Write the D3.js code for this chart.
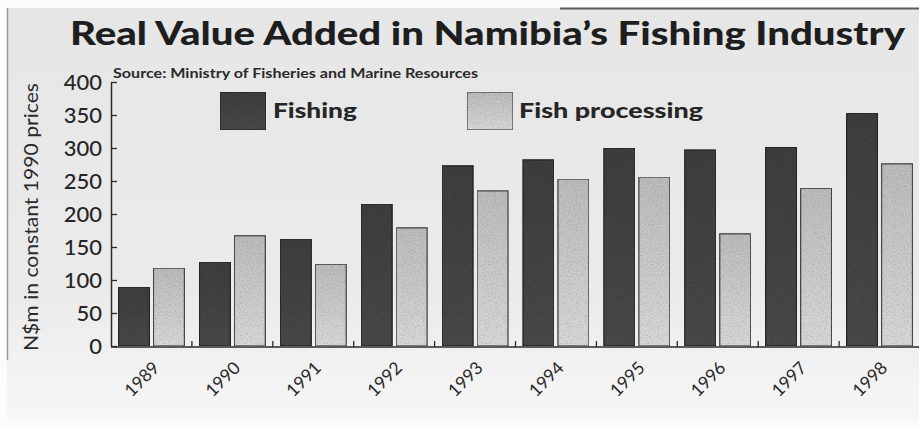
<!DOCTYPE html>
<html>
<head>
<meta charset="utf-8">
<script src="https://cdn.jsdelivr.net/npm/d3@7/dist/d3.min.js"></script>
<style>
  html, body { margin: 0; padding: 0; background: #ffffff; }
  svg { display: block; }
</style>
</head>
<body>
<svg id="chart" width="919" height="429"></svg>
<script>
// Real value added, N$ million at constant 1990 prices
const years = ["1989", "1990", "1991", "1992", "1993", "1994", "1995", "1996", "1997", "1998"];
const fishing = [89, 127, 162, 215, 273, 282, 300, 297, 301, 353];
const fishProcessing = [118, 167, 124, 179, 235, 253, 256, 170, 239, 276];
const seriesNames = ["Fishing", "Fish processing"];
const yTicks = [0, 50, 100, 150, 200, 250, 300, 350, 400];

const titleText = "Real Value Added in Namibia\u2019s Fishing Industry";
const sourceText = "Source: Ministry of Fisheries and Marine Resources";
const yAxisTitle = "N$m in constant 1990 prices";

const W = 919, H = 429;
const svg = d3.select("#chart");
const defs = svg.append("defs");

// paper background
const bg = defs.append("linearGradient").attr("id", "paper")
  .attr("x1", 0).attr("y1", 0).attr("x2", 0).attr("y2", 1);
bg.append("stop").attr("offset", "0%").attr("stop-color", "#e6e6e6");
bg.append("stop").attr("offset", "70%").attr("stop-color", "#ebebeb");
bg.append("stop").attr("offset", "100%").attr("stop-color", "#f7f7f7");

const dark = defs.append("linearGradient").attr("id", "darkFill")
  .attr("x1", 0).attr("y1", 0).attr("x2", 0).attr("y2", 1);
dark.append("stop").attr("offset", "0%").attr("stop-color", "#3e3e3e");
dark.append("stop").attr("offset", "100%").attr("stop-color", "#494949");

const light = defs.append("linearGradient").attr("id", "lightFill")
  .attr("x1", 0).attr("y1", 0).attr("x2", 0).attr("y2", 1);
light.append("stop").attr("offset", "0%").attr("stop-color", "#bebebe");
light.append("stop").attr("offset", "100%").attr("stop-color", "#dadada");

// speckled print texture
const grain = defs.append("filter").attr("id", "grain")
  .attr("x", 0).attr("y", 0).attr("width", 1).attr("height", 1);
grain.append("feTurbulence").attr("type", "fractalNoise")
  .attr("baseFrequency", 0.9).attr("numOctaves", 2).attr("seed", 3).attr("result", "noise");
grain.append("feColorMatrix").attr("in", "noise").attr("type", "matrix")
  .attr("values", "0 0 0 0 0  0 0 0 0 0  0 0 0 0 0  0 0 0 -0.7 0.42").attr("result", "spots");
grain.append("feComposite").attr("in", "spots").attr("in2", "SourceGraphic").attr("operator", "atop");

svg.append("rect").attr("x", 0).attr("y", 0).attr("width", W).attr("height", H).attr("fill", "#fbfbfb");
svg.append("rect").attr("x", 7).attr("y", 8).attr("width", W - 7).attr("height", 414).attr("fill", "url(#paper)");
svg.append("line").attr("x1", 7.5).attr("x2", 7.5).attr("y1", 8).attr("y2", 360)
  .attr("stroke", "#9a9a9a").attr("stroke-width", 1.5);
svg.append("line").attr("x1", 560).attr("x2", W).attr("y1", 8.5).attr("y2", 8.5)
  .attr("stroke", "#5a5a5a").attr("stroke-width", 2);

const fontMain = "'Lato', 'Open Sans', 'DejaVu Sans', sans-serif";

// title
svg.append("text")
  .attr("x", 70).attr("y", 45)
  .attr("textLength", 835).attr("lengthAdjust", "spacingAndGlyphs")
  .style("font-family", fontMain).style("font-weight", 900).style("font-size", "32px")
  .attr("fill", "#1e1e1e")
  .text(titleText);

// source line
svg.append("text")
  .attr("x", 113).attr("y", 78)
  .attr("textLength", 365).attr("lengthAdjust", "spacingAndGlyphs")
  .style("font-family", fontMain).style("font-weight", 700).style("font-size", "12.5px")
  .attr("fill", "#2a2a2a")
  .text(sourceText);

// scales
const x0 = d3.scaleBand().domain(years).range([111, 920])
  .paddingInner(0.185).paddingOuter(0.0925);
const x1 = d3.scaleBand().domain(seriesNames).range([0, x0.bandwidth()])
  .paddingInner(0.114).paddingOuter(0);
const y = d3.scaleLinear().domain([0, 400]).range([346, 82]);

const rows = years.map((yr, i) => ({ year: yr, values: [
  { key: seriesNames[0], value: fishing[i] },
  { key: seriesNames[1], value: fishProcessing[i] }
]}));
const fills = { "Fishing": "url(#darkFill)", "Fish processing": "url(#lightFill)" };
const strokes = { "Fishing": "#262626", "Fish processing": "#4a4a4a" };

// bars
const groups = svg.append("g").selectAll("g").data(rows).join("g")
  .attr("transform", d => `translate(${x0(d.year)},0)`);
groups.selectAll("rect").data(d => d.values).join("rect")
  .attr("x", d => x1(d.key))
  .attr("y", d => y(d.value))
  .attr("width", x1.bandwidth())
  .attr("height", d => y(0) - y(d.value))
  .attr("fill", d => fills[d.key])
  .attr("stroke", d => strokes[d.key])
  .attr("stroke-width", 1.3)
  .attr("filter", "url(#grain)");

// y axis, ticks pointing into the plot
const yAxis = d3.axisLeft(y).tickValues(yTicks).tickSizeInner(-6).tickSizeOuter(0).tickPadding(9);
const gy = svg.append("g").attr("transform", "translate(111,0)").call(yAxis);
gy.select(".domain").attr("stroke", "#2a2a2a").attr("stroke-width", 1.5);
gy.selectAll(".tick line").attr("stroke", "#2a2a2a").attr("stroke-width", 1.3);
gy.selectAll(".tick text")
  .style("font-family", fontMain).style("font-size", "22px").style("font-weight", 500)
  .attr("fill", "#252525");

// x axis baseline with group separators
const step = x0.step();
svg.append("line").attr("x1", 111).attr("x2", W).attr("y1", 347).attr("y2", 347)
  .attr("stroke", "#2a2a2a").attr("stroke-width", 1.5);
svg.append("g").selectAll("line").data(years.slice(1)).join("line")
  .attr("x1", d => x0(d) - step * 0.0925).attr("x2", d => x0(d) - step * 0.0925)
  .attr("y1", 347).attr("y2", 341)
  .attr("stroke", "#2a2a2a").attr("stroke-width", 1.3);

const xAxis = d3.axisBottom(x0).tickSize(0).tickPadding(0);
const gx = svg.append("g").attr("transform", "translate(0,347)").call(xAxis);
gx.select(".domain").remove();
gx.selectAll(".tick text")
  .attr("text-anchor", "end")
  .attr("dy", 0)
  .attr("transform", "translate(9,22) rotate(-45)")
  .style("font-family", fontMain).style("font-size", "17.5px")
  .attr("fill", "#2a2a2a");

// y axis title
svg.append("text")
  .attr("transform", "translate(38,217) rotate(-90)")
  .attr("text-anchor", "middle")
  .attr("textLength", 268).attr("lengthAdjust", "spacingAndGlyphs")
  .style("font-family", fontMain).style("font-size", "19px")
  .attr("fill", "#2a2a2a")
  .text(yAxisTitle);

// legend
const legendPos = [
  { key: seriesNames[0], x: 220, tx: 273, tw: 84 },
  { key: seriesNames[1], x: 467, tx: 519, tw: 184 }
];
const lg = svg.append("g").selectAll("g").data(legendPos).join("g");
lg.append("rect")
  .attr("x", d => d.x).attr("y", 92).attr("width", 46).attr("height", 38)
  .attr("fill", d => fills[d.key]).attr("stroke", d => strokes[d.key]).attr("stroke-width", 1.3)
  .attr("filter", "url(#grain)");
lg.append("text")
  .attr("x", d => d.tx).attr("y", 118)
  .attr("textLength", d => d.tw).attr("lengthAdjust", "spacingAndGlyphs")
  .style("font-family", fontMain).style("font-weight", 900).style("font-size", "21px")
  .attr("fill", "#262626")
  .text(d => d.key);
</script>
</body>
</html>
